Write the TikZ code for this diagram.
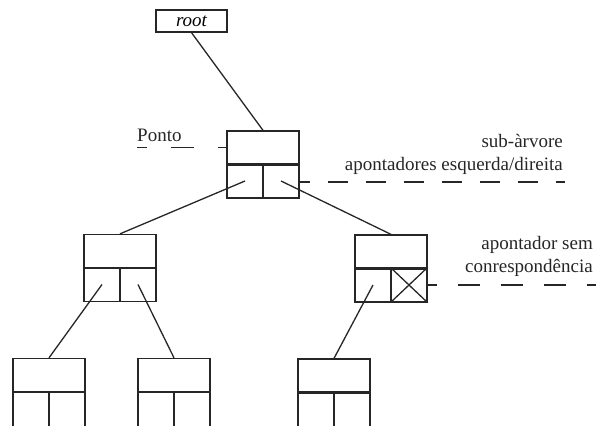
\documentclass[tikz,border=0pt]{standalone}
\usepackage{fontspec}
\setmainfont{Liberation Serif}
\begin{document}
\begin{tikzpicture}[x=1pt,y=-1pt,
  box/.style={draw=black!85, line width=1.3pt, rectangle, inner sep=0pt},
  databox/.style={box, minimum width=72pt, minimum height=33pt},
  cellbox/.style={box, minimum width=36pt, minimum height=34pt},
  opencell/.style={box, minimum width=36pt, minimum height=44pt},
  rootbox/.style={box, minimum width=71pt, minimum height=22pt, font=\fontsize{19}{22}\selectfont\itshape},
  divider/.style={draw=black!85, line width=2.6pt},
  link/.style={draw=black!85, line width=1.3pt},
  guide/.style={draw=black!85, line width=1.3pt},
  lbl/.style={inner sep=0pt, font=\fontsize{19}{23}\selectfont, text=black!85}
]
\clip (0,0) rectangle (596,425);

% root pointer
\node[rootbox] (root) at (191.5,21) {root};

% one record: data field on top, two pointer cells below
\newcommand{\record}[3]{%
  \node[databox] (#1d) at (#2,#3) {};
  \node[cellbox] (#1l) at (#2-18,#3+33.5) {};
  \node[cellbox] (#1r) at (#2+18,#3+33.5) {};
  \draw[divider] (#1d.south west) -- (#1d.south east);
}
% last level: pointer cells run past the lower edge
\newcommand{\leafrecord}[3]{%
  \node[databox] (#1d) at (#2,#3) {};
  \node[opencell] (#1l) at (#2-18,#3+38.5) {};
  \node[opencell] (#1r) at (#2+18,#3+38.5) {};
  \draw[divider] (#1d.south west) -- (#1d.south east);
}

\record{a}{263}{147.5}
\record{b}{120}{251}
\record{c}{391}{251.5}
\leafrecord{d}{49}{375}
\leafrecord{e}{174}{375}
\leafrecord{f}{334}{375.5}

% null pointer marked with a cross
\draw[link] (cr.north west) -- (cr.south east) (cr.north east) -- (cr.south west);

% pointers between records
\draw[link] (root.south) -- (ad.north);
\draw[link] (al.center) -- (bd.north);
\draw[link] (ar.center) -- (cd.north);
\draw[link] (bl.center) -- (dd.north);
\draw[link] (br.center) -- (ed.north);
\draw[link] (cl.center) -- (fd.north);

% annotations
\node[lbl, anchor=base west] (ponto) at (137,141) {Ponto};
\coordinate (pontoEnd) at (137,147.5);
\draw[guide, dash pattern=on 23pt off 24pt, dash phase=13pt] (pontoEnd) -- (ad.west);

\node[lbl, anchor=base east] (sub1) at (563,147.5) {sub-àrvore};
\node[lbl, anchor=base east] (sub2) at (563,170.5) {apontadores esquerda/direita};
\coordinate (subEnd) at (565,182);
\draw[guide, dash pattern=on 20pt off 18pt, dash phase=10pt] (ar.east |- subEnd) -- (subEnd);

\node[lbl, anchor=base east] (nul1) at (593,249.5) {apontador sem};
\node[lbl, anchor=base east] (nul2) at (593,272.5) {conrespondência};
\coordinate (nulEnd) at (596,285);
\draw[guide, dash pattern=on 22pt off 21pt, dash phase=13pt] (cr.east) -- (nulEnd);
\end{tikzpicture}
\end{document}
